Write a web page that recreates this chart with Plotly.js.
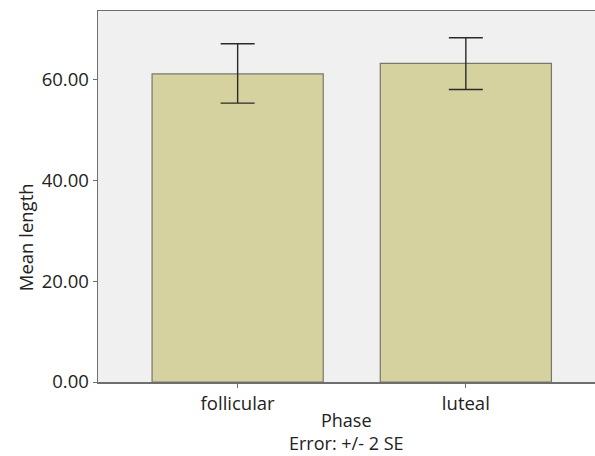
<!DOCTYPE html>
<html>
<head>
<meta charset="utf-8">
<script src="https://cdn.plot.ly/plotly-3.0.1.min.js"></script>
<style>html,body{margin:0;padding:0;background:#fff;}#chart{width:595px;height:456px;}</style>
</head>
<body>
<div id="chart"></div>
<script>
const phases = ["follicular", "luteal"];
const meanLength = [61.2, 63.3];
const errPlus = [6.0, 5.1];
const errMinus = [5.8, 5.2];
const yTicks = [0, 20, 40, 60];
const yTickLabels = ["0.00", "20.00", "40.00", "60.00"];
const xTitle = "Phase";
const xSubtitle = "Error: +/- 2 SE";
const yTitle = "Mean length";

const trace = {
  type: "bar",
  x: phases,
  y: meanLength,
  width: 0.75,
  marker: {color: "#d5d29f", line: {color: "#77776a", width: 1.2}},
  error_y: {
    type: "data", symmetric: false,
    array: errPlus, arrayminus: errMinus,
    color: "#2a2a2a", thickness: 1.4, width: 17
  },
  hoverinfo: "skip"
};

const font = {family: "Open Sans, sans-serif", size: 18.5, color: "#222"};
const titleFont = {family: "Open Sans, sans-serif", size: 18, color: "#222"};

const layout = {
  width: 595, height: 456,
  margin: {l: 98, r: 0, t: 11, b: 74},
  paper_bgcolor: "#ffffff",
  plot_bgcolor: "#f0f0f0",
  showlegend: false,
  font: font,
  xaxis: {
    type: "category",
    range: [-0.612, 1.566],
    showline: true, mirror: true, linecolor: "#6e6e6e", linewidth: 1.5,
    ticks: "outside", ticklen: 4, tickcolor: "#6e6e6e", tickwidth: 1,
    showgrid: false, zeroline: false,
    tickfont: font
  },
  yaxis: {
    range: [0, 73.7],
    tickvals: yTicks, ticktext: yTickLabels,
    showline: true, linecolor: "#6e6e6e", linewidth: 1.5,
    ticks: "outside", ticklen: 4, tickcolor: "#6e6e6e", tickwidth: 1,
    showgrid: false, zeroline: false,
    tickfont: font
  },
  annotations: [
    {text: xTitle + "<br>" + xSubtitle, xref: "paper", yref: "paper", x: 0.5, y: -0.1335, xanchor: "center", yanchor: "middle", showarrow: false, font: titleFont, borderpad: 0},
    {text: yTitle, xref: "paper", yref: "paper", x: -0.147, y: 0.39, xanchor: "center", yanchor: "middle", textangle: -90, showarrow: false, font: font, borderpad: 0}
  ]
};

Plotly.newPlot("chart", [trace], layout, {displayModeBar: false, staticPlot: true});
</script>
</body>
</html>
